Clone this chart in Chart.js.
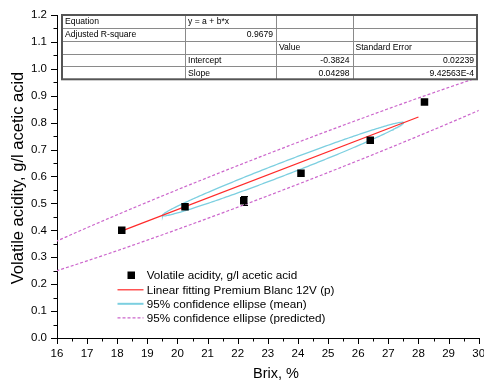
<!DOCTYPE html>
<html>
<head>
<meta charset="utf-8">
<script src="https://cdn.jsdelivr.net/npm/chart.js@4.4.1/dist/chart.umd.min.js"></script>
<style>
  html, body { margin: 0; padding: 0; background: #fff; }
  #wrap { width: 484px; height: 380px; }
</style>
</head>
<body>
<div id="wrap"><canvas id="brixChart" width="484" height="380"></canvas></div>
<script>
// samples: Brix % vs volatile acidity (g/l acetic acid)
const brix = [18.15, 20.25, 22.2, 24.1, 26.4, 28.2];
const acidity = [0.40, 0.488, 0.51, 0.612, 0.735, 0.877];
const acidityErr = [0, 0, 0.016, 0, 0, 0];

// linear fit
const fitIntercept = -0.3824;
const fitSlope = 0.04298;
const fitRange = [18.05, 28.0];

const tableRows = [
  ["Equation", "y = a + b*x", "", ""],
  ["Adjusted R-square", "0.9679", "", ""],
  ["", "", "Value", "Standard Error"],
  ["", "Intercept", "-0.3824", "0.02239"],
  ["", "Slope", "0.04298", "9.42563E-4"]
];

// 95% ellipses: centre x, [half span along x, half height at centre]
const ellipseCenterX = 23.5;
const meanEllipse = [4.0, 0.026];
const predEllipse = [10.6, 0.078];

const xRange = [16, 30];
const yRange = [0, 1.2];

const legendItems = [
  "Volatile acidity, g/l acetic acid",
  "Linear fitting Premium Blanc 12V (p)",
  "95% confidence ellipse (mean)",
  "95% confidence ellipse (predicted)"
];

const FONT = "'Liberation Sans', Arial, sans-serif";
const RED = '#ff2a2a';
const CYAN = '#7ccfe0';
const PINK = '#cc66cc';

function fitY(x) { return fitIntercept + fitSlope * x; }

// ellipse whose vertical tangents sit on the regression line
function ellipsePoints(e) {
  const pts = [];
  const n = 360;
  for (let i = 0; i <= n; i++) {
    const t = i / n * 2 * Math.PI;
    const x = ellipseCenterX + e[0] * Math.cos(t);
    pts.push({ x: x, y: fitY(x) + e[1] * Math.sin(t) });
  }
  return pts;
}

const samplePoints = brix.map((b, i) => ({ x: b, y: acidity[i] }));
const fitPoints = fitRange.map(x => ({ x: x, y: fitY(x) }));

// error bars, tick marks, axis titles, legend and fit table
const extras = {
  id: 'extras',
  beforeDatasetsDraw(chart) {
    const { ctx, scales: { x, y } } = chart;
    ctx.save();
    ctx.strokeStyle = '#000';
    ctx.lineWidth = 1;
    samplePoints.forEach((p, i) => {
      if (!acidityErr[i]) return;
      const px = Math.round(x.getPixelForValue(p.x)) + 0.5;
      const top = Math.round(y.getPixelForValue(p.y + acidityErr[i])) + 0.5;
      const bot = Math.round(y.getPixelForValue(p.y - acidityErr[i])) + 0.5;
      ctx.beginPath();
      ctx.moveTo(px, top); ctx.lineTo(px, bot);
      ctx.moveTo(px - 3.5, top); ctx.lineTo(px + 3.5, top);
      ctx.moveTo(px - 3.5, bot); ctx.lineTo(px + 3.5, bot);
      ctx.stroke();
    });
    ctx.restore();
  },
  afterDraw(chart) {
    const { ctx, chartArea: a, scales: { x, y } } = chart;
    ctx.save();

    // tick marks, major and minor, outside the axes
    ctx.strokeStyle = '#000';
    ctx.lineWidth = 1;
    ctx.beginPath();
    for (let i = 0; i <= (xRange[1] - xRange[0]) * 2; i++) {
      const px = Math.round(x.getPixelForValue(xRange[0] + i * 0.5)) + 0.5;
      const len = i % 2 === 0 ? 6 : 3.5;
      ctx.moveTo(px, a.bottom); ctx.lineTo(px, a.bottom + len);
    }
    for (let i = 0; i <= Math.round((yRange[1] - yRange[0]) / 0.05); i++) {
      const py = Math.round(y.getPixelForValue(yRange[0] + i * 0.05)) + 0.5;
      const len = i % 2 === 0 ? 6 : 3.5;
      ctx.moveTo(a.left, py); ctx.lineTo(a.left - len, py);
    }
    ctx.stroke();

    // axis titles
    ctx.fillStyle = '#000';
    ctx.font = '14.5px ' + FONT;
    ctx.textAlign = 'center';
    ctx.textBaseline = 'alphabetic';
    ctx.fillText('Brix, %', 276, 378);
    ctx.save();
    ctx.font = '16.5px ' + FONT;
    ctx.translate(23, 178);
    ctx.rotate(-Math.PI / 2);
    ctx.fillText('Volatile acidity, g/l acetic acid', 0, 0);
    ctx.restore();

    // legend
    const rowsY = [275, 289.3, 303.3, 317.3];
    ctx.font = '11.7px ' + FONT;
    ctx.textAlign = 'left';
    ctx.textBaseline = 'middle';
    legendItems.forEach((label, i) => {
      const ly = rowsY[i];
      if (i === 0) {
        ctx.fillStyle = '#000';
        ctx.fillRect(127.5, ly - 3.5, 7.5, 7.5);
      } else {
        ctx.beginPath();
        ctx.strokeStyle = [RED, CYAN, PINK][i - 1];
        ctx.lineWidth = i === 2 ? 2 : 1.2;
        ctx.setLineDash(i === 3 ? [3, 2] : []);
        ctx.moveTo(117.5, ly + 0.5); ctx.lineTo(143.5, ly + 0.5);
        ctx.stroke();
        ctx.setLineDash([]);
      }
      ctx.fillStyle = '#000';
      ctx.fillText(label, 146.7, ly + 1);
    });

    // fit table
    const cols = [62, 185, 276, 352.5, 477];
    const top = 15, rowH = 12.86;
    const bottom = top + rowH * tableRows.length;
    ctx.fillStyle = '#fff';
    ctx.fillRect(cols[0], top, cols[4] - cols[0], bottom - top);
    ctx.strokeStyle = '#8a8a8a';
    ctx.lineWidth = 1;
    ctx.beginPath();
    for (let r = 1; r < tableRows.length; r++) {
      const ry = Math.round(top + r * rowH) + 0.5;
      ctx.moveTo(cols[0], ry); ctx.lineTo(cols[4], ry);
    }
    for (let c = 1; c < cols.length - 1; c++) {
      const cx = Math.round(cols[c]) + 0.5;
      ctx.moveTo(cx, top); ctx.lineTo(cx, bottom);
    }
    ctx.stroke();
    ctx.strokeStyle = '#555';
    ctx.lineWidth = 2;
    ctx.strokeRect(cols[0], top, cols[4] - cols[0], bottom - top);

    ctx.fillStyle = '#000';
    ctx.font = '8.6px ' + FONT;
    ctx.textBaseline = 'middle';
    tableRows.forEach((row, r) => {
      const cy = top + (r + 0.5) * rowH + 0.5;
      row.forEach((txt, c) => {
        if (!txt) return;
        const numeric = /^-?[0-9.]+(E-?\d+)?$/.test(txt);
        if (numeric) {
          ctx.textAlign = 'right';
          ctx.fillText(txt, cols[c + 1] - 3, cy);
        } else {
          ctx.textAlign = 'left';
          ctx.fillText(txt, cols[c] + 3, cy);
        }
      });
    });
    ctx.restore();
  }
};

new Chart(document.getElementById('brixChart'), {
  type: 'scatter',
  data: {
    datasets: [
      {
        label: legendItems[0],
        data: samplePoints,
        pointStyle: 'rect',
        pointRadius: 5.3,
        pointHoverRadius: 5.3,
        backgroundColor: '#000',
        borderColor: '#000',
        borderWidth: 0,
        showLine: false
      },
      {
        label: legendItems[1],
        data: fitPoints,
        showLine: true,
        borderColor: RED,
        borderWidth: 1.2,
        pointRadius: 0,
        tension: 0
      },
      {
        label: legendItems[2],
        data: ellipsePoints(meanEllipse),
        showLine: true,
        borderColor: CYAN,
        borderWidth: 1.3,
        pointRadius: 0,
        tension: 0
      },
      {
        label: legendItems[3],
        data: ellipsePoints(predEllipse),
        showLine: true,
        borderColor: PINK,
        borderWidth: 1.2,
        borderDash: [3, 2],
        pointRadius: 0,
        tension: 0
      }
    ]
  },
  options: {
    responsive: false,
    animation: false,
    devicePixelRatio: 1,
    layout: { padding: { top: 15, right: 3, left: 0, bottom: 0 } },
    plugins: { legend: { display: false }, tooltip: { enabled: false } },
    scales: {
      x: {
        type: 'linear',
        min: xRange[0],
        max: xRange[1],
        grid: { display: true, drawOnChartArea: false, drawTicks: false },
        border: { display: true, color: '#000', width: 1 },
        ticks: {
          stepSize: 1,
          padding: 9,
          maxRotation: 0,
          autoSkip: false,
          color: '#000',
          font: { family: FONT, size: 11.5 }
        },
        afterFit(s) { s.height = 42; s.paddingLeft = 0; s.paddingRight = 0; }
      },
      y: {
        type: 'linear',
        min: yRange[0],
        max: yRange[1],
        grid: { display: true, drawOnChartArea: false, drawTicks: false },
        border: { display: true, color: '#000', width: 1 },
        ticks: {
          stepSize: 0.1,
          padding: 10,
          autoSkip: false,
          color: '#000',
          font: { family: FONT, size: 11.5 },
          callback: v => v.toFixed(1)
        },
        afterFit(s) { s.width = 57; s.paddingTop = 0; s.paddingBottom = 0; }
      }
    }
  },
  plugins: [extras]
});
</script>
</body>
</html>
